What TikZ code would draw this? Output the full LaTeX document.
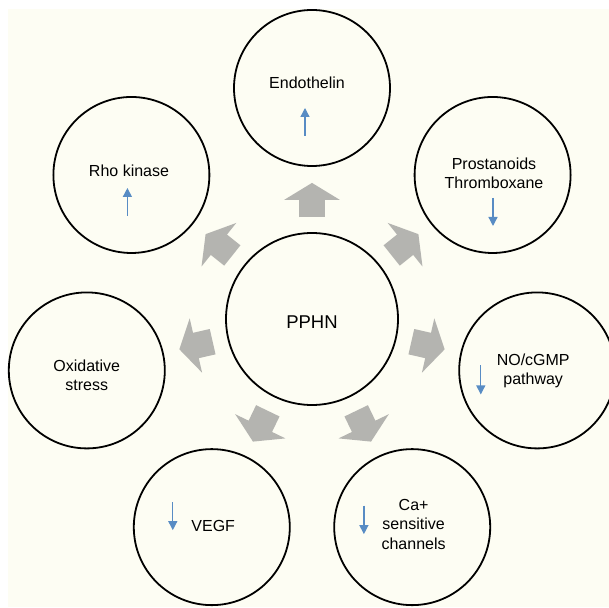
\documentclass[tikz,border=0pt]{standalone}
\usepackage{fontspec}
\setmainfont{Liberation Sans}
\usetikzlibrary{arrows.meta,positioning}
\definecolor{cream}{RGB}{253,253,243}
\definecolor{blockgray}{RGB}{180,180,176}
\definecolor{steel}{RGB}{88,140,196}

\begin{document}
\begin{tikzpicture}[x=1pt,y=1pt,
    bubble/.style={draw,circle,line width=1.8pt,minimum size=156pt,inner sep=0pt},
    lbl/.style={align=center,font=\fontsize{16}{19.5}\selectfont},
    push/.style={draw=blockgray,line width=26pt,-{Triangle[width=55pt,length=17pt]},shorten <=15pt,shorten >=16pt},
    trend/.style={draw=steel,line width=1.3pt,-{Triangle[width=9pt,length=9pt]}}]
    % Page and background
    \fill[white] (-312,-288) rectangle (297,319);
    \fill[cream] (-304,-288) rectangle (297,310);
    \useasboundingbox (-312,-288) rectangle (297,319);

    % Centre
    \node[bubble,minimum size=172pt] (pphn) at (0,0) {};
    \node[font=\fontsize{18.5}{22}\selectfont] (pphnText) at (0,-3) {PPHN};

    % Outer circles
    \node[bubble] (endo)  at (90:231) {};
    \node[bubble] (rho)   at (141.43:231) {};
    \node[bubble] (oxi)   at (192.86:231) {};
    \node[bubble] (vegf)  at (244.29:231) {};
    \node[bubble] (caCh)  at (295.71:231) {};
    \node[bubble] (nocg)  at (347.14:231) {};
    \node[bubble] (prost) at (38.57:231) {};

    % Gray block arrows
    \draw[push] (pphn) -- (endo);
    \draw[push] (pphn) -- (rho);
    \draw[push] (pphn) -- (oxi);
    \draw[push] (pphn) -- (vegf);
    \draw[push] (pphn) -- (caCh);
    \draw[push] (pphn) -- (nocg);
    \draw[push] (pphn) -- (prost);

    % Labels
    \node[lbl] (endoText)  at ([shift={(-5,5)}]endo.center) {Endothelin};
    \node[lbl] (rhoText)   at ([shift={(-2.4,4)}]rho.center) {Rho kinase};
    \node[lbl] (oxiText)   at ([shift={(0,-5)}]oxi.center) {Oxidative\\stress};
    \node[lbl] (vegfText)  at ([shift={(1.4,1)}]vegf.center) {VEGF};
    \node[lbl] (caText)    at ([shift={(1.4,3)}]caCh.center) {Ca+\\sensitive\\channels};
    \node[lbl] (nocgText)  at ([shift={(-4,-0.5)}]nocg.center) {NO/cGMP\\pathway};
    \node[lbl] (prostText) at ([shift={(1.4,1.5)}]prost.center) {Prostanoids\\Thromboxane};

    % Up / down
    \coordinate (endoUp)  at ([shift={(-7,-48)}]endo.center);
    \coordinate (rhoUp)   at ([shift={(-4,-41)}]rho.center);
    \coordinate (prostDn) at ([shift={(0.4,-23)}]prost.center);
    \coordinate (nocgDn)  at ([shift={(-56.4,5)}]nocg.center);
    \coordinate (vegfDn)  at ([shift={(-39,25)}]vegf.center);
    \coordinate (caDn)    at ([shift={(-48.3,21.5)}]caCh.center);
    \draw[trend] (endoUp) -- ++(0,28);
    \draw[trend] (rhoUp) -- ++(0,28);
    \draw[trend] (prostDn) -- ++(0,-28);
    \draw[trend] (nocgDn) -- ++(0,-29);
    \draw[trend] (vegfDn) -- ++(0,-28);
    \draw[trend] (caDn) -- ++(0,-28.5);
\end{tikzpicture}
\end{document}
